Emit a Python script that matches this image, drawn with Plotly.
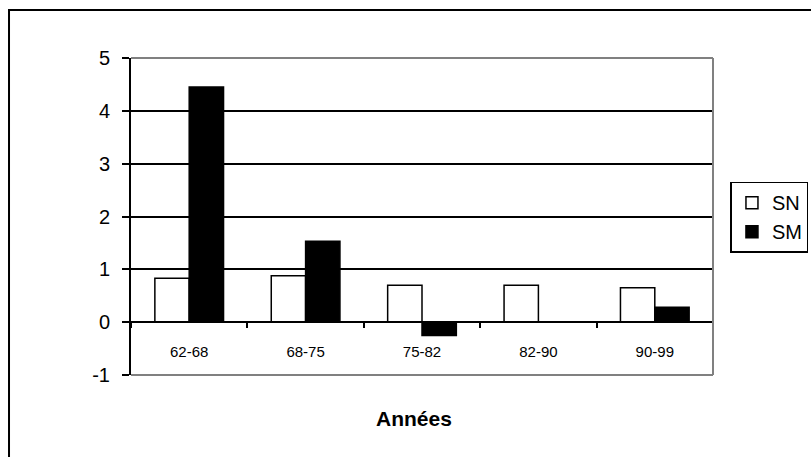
import plotly.graph_objects as go

# Periods and growth values for the two series
periodes = ["62-68", "68-75", "75-82", "82-90", "90-99"]
sn_vals = [0.83, 0.88, 0.70, 0.70, 0.65]
sm_vals = [4.45, 1.53, -0.25, None, 0.28]
y_ticks = [-1, 0, 1, 2, 3, 4, 5]
y_labels = ["-1", "0", "1", "2", "3", "4", "5"]

FONT = "Liberation Sans, Arial, sans-serif"

fig = go.Figure()
fig.add_trace(go.Bar(
    name="SN", x=periodes, y=sn_vals,
    marker=dict(color="white", line=dict(color="black", width=1.5)),
))
fig.add_trace(go.Bar(
    name="SM", x=periodes, y=sm_vals,
    marker=dict(color="black", line=dict(color="black", width=1.5)),
))

fig.update_layout(
    width=811, height=457,
    margin=dict(l=131, r=98, t=58, b=82, autoexpand=False),
    paper_bgcolor="white", plot_bgcolor="white",
    barmode="group", bargap=0.41, bargroupgap=0,
    font=dict(family=FONT, color="black"),
    showlegend=True,
    legend=dict(
        x=1.03, y=0.61, xanchor="left", yanchor="top",
        bgcolor="white", bordercolor="black", borderwidth=1.5,
        font=dict(size=20, family=FONT),
        itemwidth=30,
    ),
    xaxis=dict(
        type="category",
        anchor="free", position=1 / 6,
        showline=True, linecolor="black", linewidth=2,
        ticks="outside", ticklen=5, tickwidth=2, tickcolor="black",
        tickson="boundaries",
        ticklabelstandoff=16,
        tickfont=dict(size=15, family=FONT),
        showgrid=False,
    ),
    yaxis=dict(
        range=[-1, 5], tickvals=y_ticks, ticktext=y_labels,
        showline=True, linecolor="black", linewidth=2,
        ticks="outside", ticklen=7, tickwidth=2, tickcolor="black",
        ticklabelstandoff=8,
        tickfont=dict(size=20, family=FONT),
        showgrid=True, gridcolor="black", gridwidth=2,
        zeroline=True, zerolinecolor="black", zerolinewidth=2,
    ),
    shapes=[
        # grey border of the plot area (top, right, bottom)
        dict(type="line", xref="paper", yref="paper", x0=0, x1=1, y0=1, y1=1,
             line=dict(color="#808080", width=2), layer="above"),
        dict(type="line", xref="paper", yref="paper", x0=1, x1=1, y0=0, y1=1,
             line=dict(color="#808080", width=2), layer="above"),
        dict(type="line", xref="paper", yref="paper", x0=0, x1=1, y0=0, y1=0,
             line=dict(color="#808080", width=2), layer="above"),
        # outer chart frame
        dict(type="rect", xref="paper", yref="paper",
             x0=-0.2096, x1=1.5, y0=-0.5, y1=1.1514,
             line=dict(color="black", width=2), layer="below"),
    ],
    annotations=[
        dict(text="<b>Années</b>", xref="paper", yref="paper",
             x=0.486, y=-0.136, xanchor="center", yanchor="middle",
             showarrow=False, font=dict(size=21, family=FONT)),
    ],
)

fig.write_html("out.html")
